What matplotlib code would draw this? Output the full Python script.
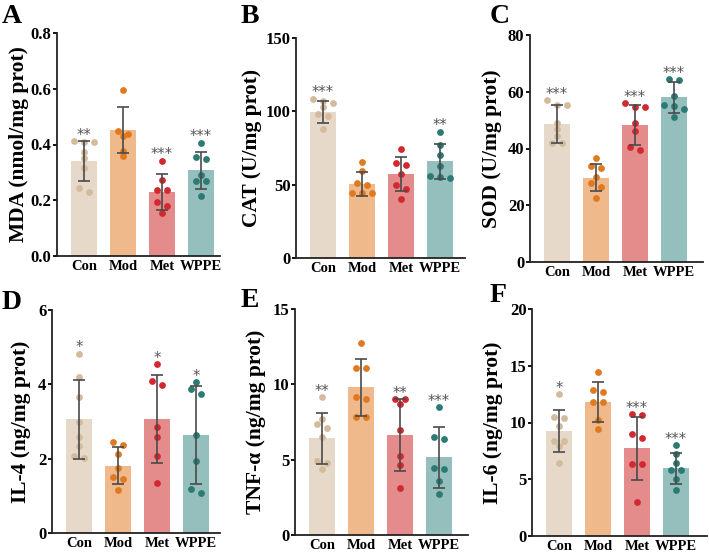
import matplotlib
matplotlib.use("Agg")
import matplotlib.pyplot as plt
import numpy as np

plt.rcParams['font.family'] = ['Liberation Serif', 'DejaVu Serif']
plt.rcParams['font.weight'] = 'bold'

# ---------------- data ----------------
groups = ["Con", "Mod", "Met", "WPPE"]

mda_pts = [[0.409, 0.41, 0.411, 0.372, 0.352, 0.317, 0.243, 0.228],
           [0.595, 0.448, 0.436, 0.431, 0.376, 0.358],
           [0.342, 0.272, 0.235, 0.235, 0.192, 0.179, 0.153],
           [0.406, 0.356, 0.348, 0.29, 0.27, 0.27, 0.216]]
mda_mean = [0.34, 0.452, 0.229, 0.307]
mda_sd = [0.072, 0.083, 0.064, 0.065]
mda_sig = ["**", "", "***", "***"]

cat_pts = [[108.5, 107, 106, 103, 98, 97, 88],
           [65.5, 59, 51, 50, 44, 44, 44],
           [74.5, 65, 63.5, 57.5, 50, 47, 40],
           [86, 77, 70, 62.5, 56, 55, 54.5]]
cat_mean = [99.8, 50.5, 57.3, 65.9]
cat_sd = [7.5, 8.3, 11.6, 11.8]
cat_sig = ["***", "", "", "**"]

sod_pts = [[57, 55.5, 55.5, 49, 47, 44.5, 42, 42],
           [36.5, 34, 33, 30, 28, 26.5, 22.5],
           [56, 54.5, 54.5, 49, 46, 40.5, 39.5],
           [64.5, 64, 58.5, 55.5, 55, 54, 51]]
sod_mean = [48.6, 29.7, 48.4, 58.0]
sod_sd = [6.6, 4.7, 7.1, 5.6]
sod_sig = ["***", "", "***", "***"]

il4_pts = [[4.82, 4.2, 3.66, 3.0, 2.57, 2.35, 2.08, 2.03],
           [2.44, 2.37, 2.13, 1.75, 1.5, 1.46, 1.16],
           [4.54, 4.09, 3.98, 2.85, 2.58, 2.08, 1.34],
           [4.05, 3.87, 3.75, 2.64, 1.94, 1.18, 1.07]]
il4_mean = [3.06, 1.81, 3.06, 2.64]
il4_sd = [1.06, 0.5, 1.18, 1.32]
il4_sig = ["*", "", "*", "*"]

tnf_pts = [[9.16, 7.68, 7.35, 7.08, 6.48, 4.93, 4.75, 4.4],
           [12.72, 11.06, 11.06, 9.18, 9.02, 7.81, 7.81],
           [9.02, 9.0, 8.69, 6.97, 5.26, 4.64, 3.1],
           [8.47, 6.52, 6.35, 4.45, 4.4, 3.6, 2.75]]
tnf_mean = [6.42, 9.8, 6.64, 5.15]
tnf_sd = [1.7, 1.9, 2.38, 2.04]
tnf_sig = ["**", "", "**", "***"]

il6_pts = [[12.48, 10.51, 10.37, 9.69, 8.4, 8.4, 7.96, 6.46],
           [14.42, 12.89, 12.71, 11.78, 11.78, 10.19, 9.43],
           [10.75, 10.66, 8.99, 8.63, 6.31, 6.31, 3.0],
           [7.99, 7.22, 6.4, 5.78, 5.78, 5.02, 4.05]]
il6_mean = [9.28, 11.8, 7.72, 5.96]
il6_sd = [1.86, 1.75, 2.8, 1.38]
il6_sig = ["*", "", "***", "***"]

bar_colors = ["#E7D9CA", "#F0B98B", "#E48B8C", "#95BFBC"]
dot_colors = ["#D3BB9D", "#E07A20", "#D02A30", "#2B7B74"]

# ---------------- layout ----------------
W, H = 709, 556
fig = plt.figure(figsize=(W / 100, H / 100), dpi=100)


def fbox(l, r, t, b):
    return [l / W, 1 - b / H, (r - l) / W, (b - t) / H]


PX_PER_UNIT = 39.0
FIRST_OFF = 27.0


def swarm(vals, ppd, row_px=4.5, step=5.0 / PX_PER_UNIT):
    vals = np.asarray(vals, float)
    order = np.argsort(-vals, kind="stable")
    offs = np.zeros(len(vals))
    rows, cur = [], []
    for i in order:
        if cur and (vals[cur[0]] - vals[i]) * ppd > row_px:
            rows.append(cur)
            cur = []
        cur.append(i)
    rows.append(cur)
    for row in rows:
        n = len(row)
        for k, i in enumerate(row):
            offs[i] = (k - (n - 1) / 2) * 2 * step
    return offs


panels = [
    dict(letter="A", ylabel="MDA (nmol/mg prot)", pts=mda_pts, mean=mda_mean, sd=mda_sd,
         sig=mda_sig, ymax=0.8, ticks=[0, 0.2, 0.4, 0.6, 0.8], fmt="{:.1f}",
         box=(57, 220, 33, 256), let=(2, 23), ylx=19),
    dict(letter="B", ylabel="CAT (U/mg prot)", pts=cat_pts, mean=cat_mean, sd=cat_sd,
         sig=cat_sig, ymax=150, ticks=[0, 50, 100, 150], fmt="{:.0f}",
         box=(296, 465, 38, 258), let=(241, 23), ylx=252),
    dict(letter="C", ylabel="SOD (U/mg prot)", pts=sod_pts, mean=sod_mean, sd=sod_sd,
         sig=sod_sig, ymax=80, ticks=[0, 20, 40, 60, 80], fmt="{:.0f}",
         box=(530, 703, 35, 262), let=(490, 23), ylx=492),
    dict(letter="D", ylabel="IL-4 (ng/mg prot)", pts=il4_pts, mean=il4_mean, sd=il4_sd,
         sig=il4_sig, ymax=6, ticks=[0, 2, 4, 6], fmt="{:.0f}",
         box=(52, 220, 310, 533), let=(2, 309), ylx=21),
    dict(letter="E", ylabel="TNF-α (ng/mg prot)", pts=tnf_pts, mean=tnf_mean, sd=tnf_sd,
         sig=tnf_sig, ymax=15, ticks=[0, 5, 10, 15], fmt="{:.0f}",
         box=(295, 468, 309, 535), let=(241, 307), ylx=256),
    dict(letter="F", ylabel="IL-6 (ng/mg prot)", pts=il6_pts, mean=il6_mean, sd=il6_sd,
         sig=il6_sig, ymax=20, ticks=[0, 5, 10, 15, 20], fmt="{:.0f}",
         box=(532, 707, 309, 536), let=(490, 302), ylx=493),
]

for p in panels:
    l, r, t, b = p["box"]
    ax = fig.add_axes(fbox(l, r, t, b))
    x = np.arange(len(groups))
    ax.bar(x, p["mean"], width=0.68, color=bar_colors, linewidth=0, zorder=1)
    ppd = (b - t) / p["ymax"]
    for i, vals in enumerate(p["pts"]):
        offs = swarm(vals, ppd)
        ax.scatter(x[i] + offs, vals, s=24, color=dot_colors[i], linewidths=0, zorder=3)
    ax.errorbar(x, p["mean"], yerr=p["sd"], fmt="none", ecolor="#4A4A4A",
                elinewidth=1.2, capsize=4.5, capthick=1.2, zorder=4)
    for i, s in enumerate(p["sig"]):
        if s:
            ax.annotate(s, (x[i], max(p["pts"][i])), xytext=(0, 1.0),
                        textcoords="offset points", ha="center", va="baseline",
                        fontsize=10.5, color="#555555", fontweight="normal",
                        family="DejaVu Sans")
    ax.set_xlim(-FIRST_OFF / PX_PER_UNIT, -FIRST_OFF / PX_PER_UNIT + (r - l) / PX_PER_UNIT)
    ax.set_ylim(0, p["ymax"])
    ax.set_yticks(p["ticks"])
    ax.set_yticklabels([p["fmt"].format(v) for v in p["ticks"]])
    ax.set_xticks(x)
    ax.set_xticklabels(groups)
    for sp in ["top", "right"]:
        ax.spines[sp].set_visible(False)
    for sp in ["left", "bottom"]:
        ax.spines[sp].set_linewidth(1.3)
        ax.spines[sp].set_color("#222222")
    ax.tick_params(axis="y", length=3, width=1.3, pad=1, labelsize=12, colors="black")
    ax.tick_params(axis="x", length=0, pad=3, labelsize=10.5)
    for lab in ax.get_xticklabels() + ax.get_yticklabels():
        lab.set_fontweight("bold")
    ax.set_ylabel(p["ylabel"], fontsize=15.5, fontweight="bold")
    ax.yaxis.set_label_coords(p["ylx"] / W, 1 - ((t + b) / 2) / H, transform=fig.transFigure)
    ax.yaxis.label.set_va("center")
    lx, ly = p["let"]
    fig.text(lx / W, 1 - ly / H, p["letter"], fontsize=20, fontweight="bold",
             ha="left", va="baseline")

fig.savefig("out.png", dpi=100)
